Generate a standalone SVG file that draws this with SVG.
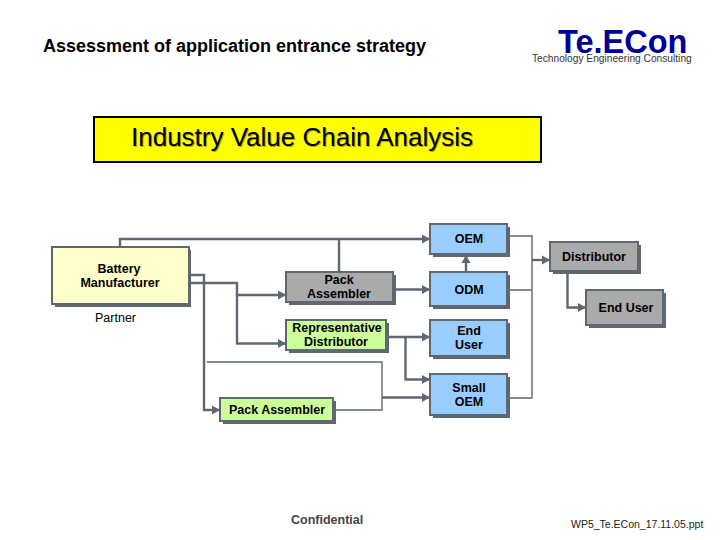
<svg xmlns="http://www.w3.org/2000/svg" width="720" height="540" viewBox="0 0 720 540">
<style>
text{font-family:"Liberation Sans",Arial,sans-serif;fill:#000}
.b{font-weight:bold;font-size:12.5px;text-anchor:middle}
.box{stroke:#5f6870;stroke-width:2}
.sh{fill:#5f6870}
.c{fill:none;stroke:#5f6870;stroke-width:2.4}
.t{fill:none;stroke:#5f6870;stroke-width:1.4}
.blue{fill:#99ccff}.grey{fill:#aaaaaa}.green{fill:#ccff99}.cream{fill:#ffffcc}
</style>
<defs>
<marker id="a" markerUnits="userSpaceOnUse" markerWidth="9" markerHeight="10" refX="8" refY="5" orient="auto"><path d="M0 0.5L8 5L0 9.5z" fill="#5f6870"/></marker>
</defs>
<rect width="720" height="540" fill="#fff"/>
<g id="header">
<text x="43" y="52" font-size="18" font-weight="bold">Assessment of application entrance strategy</text>
<text x="558" y="53" font-size="32.5" font-weight="bold" style="fill:#000099">Te.ECon</text>
<text x="532" y="62" font-size="10.2" style="fill:#333">Technology Engineering  Consulting</text>
</g>
<g id="title">
<rect x="94" y="117" width="447" height="45" fill="#ffff00" stroke="#000" stroke-width="2"/>
<text x="132" y="147" font-size="26" style="fill:#b0a800">Industry Value Chain Analysis</text>
<text x="131" y="146" font-size="26">Industry Value Chain Analysis</text>
</g>
<g id="connectors">
<path class="c" d="M120 247V239H430" marker-end="url(#a)"/>
<path class="c" d="M339 272V239"/>
<path class="c" d="M190 275H204V410H220" marker-end="url(#a)"/>
<path class="c" d="M190 283H237V295H286" marker-end="url(#a)"/>
<path class="c" d="M237 295V343.500H286" marker-end="url(#a)"/>
<path class="t" d="M207 362H382V410H336"/>
<path class="c" d="M382 397.500H430" marker-end="url(#a)"/>
<path class="c" d="M396 289.500H430" marker-end="url(#a)"/>
<path class="c" d="M389 337H430" marker-end="url(#a)"/>
<path class="c" d="M405.500 337V379.500H430" marker-end="url(#a)"/>
<path class="c" d="M466 272V255" marker-end="url(#a)"/>
<path class="t" d="M510 236H532V398H510M510 290H532"/>
<path class="c" d="M532 260H550" marker-end="url(#a)"/>
<path class="c" d="M567.500 273V307.500H586" marker-end="url(#a)"/>
</g>
<g id="battery"><rect class="sh" x="55" y="250" width="136" height="57"/><rect class="box cream" x="52" y="247" width="137" height="57"/><text class="b" x="119" y="273">Battery</text><text class="b" x="120" y="287">Manufacturer</text></g>
<text id="partner" x="95" y="322" font-size="12.500">Partner</text>
<g id="pack-grey"><rect class="sh" x="289" y="275" width="107" height="30"/><rect class="box grey" x="286" y="272" width="107" height="30"/><text class="b" x="339" y="284">Pack</text><text class="b" x="339" y="298">Assembler</text></g>
<g id="rep"><rect class="sh" x="289" y="323" width="100" height="30"/><rect class="box green" x="286" y="320" width="100" height="30"/><text class="b" x="337" y="332">Representative</text><text class="b" x="336" y="346">Distributor</text></g>
<g id="pack-green"><rect class="sh" x="223" y="401" width="113" height="23"/><rect class="box green" x="220" y="398" width="113" height="23"/><text class="b" x="277" y="414">Pack Assembler</text></g>
<g id="oem"><rect class="sh" x="433" y="227" width="77" height="30"/><rect class="box blue" x="430" y="224" width="77" height="30"/><text class="b" x="469" y="243">OEM</text></g>
<g id="odm"><rect class="sh" x="433" y="275" width="77" height="34"/><rect class="box blue" x="430" y="272" width="77" height="34"/><text class="b" x="469" y="294">ODM</text></g>
<g id="enduser-a"><rect class="sh" x="433" y="323" width="77" height="36"/><rect class="box blue" x="430" y="320" width="77" height="36"/><text class="b" x="469" y="335">End</text><text class="b" x="469" y="349">User</text></g>
<g id="small-oem"><rect class="sh" x="433" y="377" width="77" height="41"/><rect class="box blue" x="430" y="374" width="77" height="41"/><text class="b" x="469" y="392">Small</text><text class="b" x="469" y="406">OEM</text></g>
<g id="distributor"><rect class="sh" x="553" y="245" width="88" height="29"/><rect class="box grey" x="550" y="242" width="88" height="29"/><text class="b" x="594" y="261">Distributor</text></g>
<g id="enduser-b"><rect class="sh" x="589" y="293" width="77" height="35"/><rect class="box grey" x="586" y="290" width="77" height="35"/><text class="b" x="626" y="312">End User</text></g>
<g id="footer">
<text x="291" y="524" font-size="12.500" font-weight="bold" style="fill:#444">Confidential</text>
<text x="571" y="528" font-size="10.500" style="fill:#222">WP5_Te.ECon_17.11.05.ppt</text>
</g>
</svg>
